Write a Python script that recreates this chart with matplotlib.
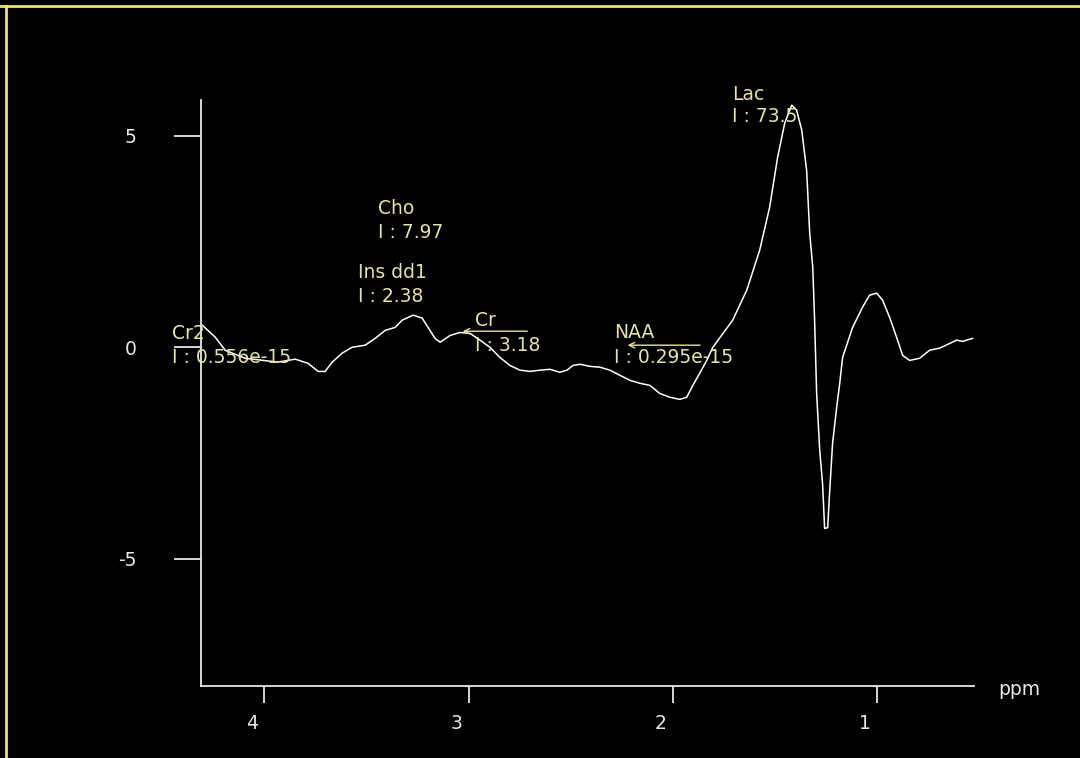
import matplotlib
matplotlib.use("Agg")
import matplotlib.pyplot as plt
import matplotlib.transforms as mtransforms
from matplotlib.lines import Line2D

plt.rcParams['font.family'] = ['DejaVu Sans']

# spectrum (ppm, intensity)
ppm = [4.303, 4.240, 4.191, 4.093, 3.932, 3.848, 3.785, 3.736, 3.702, 3.667,
       3.619, 3.570, 3.506, 3.457, 3.408, 3.359, 3.325, 3.271, 3.227, 3.198,
       3.164, 3.139, 3.090, 3.042, 2.993, 2.944, 2.895, 2.846, 2.797, 2.748,
       2.699, 2.650, 2.601, 2.553, 2.518, 2.489, 2.455, 2.406, 2.357, 2.308,
       2.259, 2.210, 2.161, 2.112, 2.064, 2.015, 1.966, 1.932, 1.902, 1.868,
       1.834, 1.804, 1.707, 1.638, 1.575, 1.526, 1.487, 1.452, 1.418, 1.394,
       1.369, 1.345, 1.330, 1.315, 1.306, 1.296, 1.281, 1.267, 1.257, 1.242,
       1.232, 1.218, 1.198, 1.183, 1.169, 1.149, 1.120, 1.071, 1.037, 1.002,
       0.973, 0.939, 0.905, 0.875, 0.841, 0.792, 0.743, 0.694, 0.645, 0.611,
       0.582, 0.533]
intensity = [0.52, 0.24, -0.07, -0.26, -0.35, -0.28, -0.38, -0.57, -0.57, -0.35,
             -0.14, 0.00, 0.05, 0.21, 0.40, 0.47, 0.64, 0.76, 0.69, 0.47,
             0.21, 0.12, 0.28, 0.35, 0.33, 0.17, 0.00, -0.24, -0.43, -0.54,
             -0.57, -0.54, -0.52, -0.59, -0.54, -0.43, -0.40, -0.45, -0.47, -0.54,
             -0.66, -0.78, -0.85, -0.90, -1.09, -1.18, -1.23, -1.18, -0.90, -0.61,
             -0.31, 0.00, 0.64, 1.35, 2.29, 3.31, 4.49, 5.30, 5.72, 5.60,
             5.13, 4.18, 2.70, 1.89, 0.64, -1.09, -2.43, -3.22, -4.28, -4.26,
             -3.38, -2.27, -1.42, -0.85, -0.24, 0.05, 0.47, 0.95, 1.23, 1.28,
             1.11, 0.71, 0.24, -0.19, -0.31, -0.26, -0.07, -0.02, 0.09, 0.17,
             0.14, 0.21]

# peak labels
peak_names = ['Cr2', 'Ins dd1', 'Cho', 'Cr', 'NAA', 'Lac']
peak_values = ['0.556e-15', '2.38', '7.97', '3.18', '0.295e-15', '73.5']
label_x = [4.45, 3.540, 3.443, 2.968, 2.289, 1.711]
name_y = [0.33, 1.77, 3.29, 0.64, 0.35, 5.96]
value_y = [-0.24, 1.21, 2.72, 0.05, -0.24, 5.44]

xticks = [4, 3, 2, 1]
yticks = [-5, 0, 5]

fg = '#e8e8e8'
lab = '#e6e2a6'
fs = 13.5

fig = plt.figure(figsize=(10.8, 7.58), dpi=100, facecolor='black')
ax = fig.add_axes([0.186, 0.095, 0.716, 0.773])
ax.set_facecolor('black')

ax.plot(ppm, intensity, color='white', lw=1.1)

ax.set_xlim(4.31, 0.525)
ax.set_ylim(-8.0, 5.84)

for s in ['top', 'right']:
    ax.spines[s].set_visible(False)
for s in ['left', 'bottom']:
    ax.spines[s].set_color(fg)
    ax.spines[s].set_linewidth(1.3)

ax.set_xticks(xticks)
ax.set_yticks(yticks)
ax.set_yticklabels([str(v) for v in yticks])
ax.tick_params(axis='x', colors=fg, length=12, width=1.3, pad=8, labelsize=fs)
ax.tick_params(axis='y', colors=fg, length=19.5, width=1.3, pad=27, labelsize=fs)

# x tick labels sit a bit left of their ticks
offset = mtransforms.ScaledTranslation(-0.12, 0, fig.dpi_scale_trans)
for t in ax.get_xticklabels():
    t.set_transform(t.get_transform() + offset)

fig.text(0.944, 0.090, 'ppm', color=fg, fontsize=fs, ha='center', va='center')

for name, val, x, y1, y2 in zip(peak_names, peak_values, label_x, name_y, value_y):
    ax.text(x, y1, name, color=lab, fontsize=fs, ha='left', va='center', clip_on=False)
    ax.text(x, y2, 'I : ' + val, color=lab, fontsize=fs, ha='left', va='center', clip_on=False)

# leader arrows for Cr and NAA
ax.annotate('', xy=(3.042, 0.38), xytext=(2.699, 0.38),
            arrowprops=dict(arrowstyle='->', color=lab, lw=1.0))
ax.annotate('', xy=(2.235, 0.05), xytext=(1.853, 0.05),
            arrowprops=dict(arrowstyle='->', color=lab, lw=1.0))

# yellow frame edges
fig.add_artist(Line2D([0, 1], [0.992, 0.992], transform=fig.transFigure, color='#efe07a', lw=2.0))
fig.add_artist(Line2D([0.006, 0.006], [0, 0.992], transform=fig.transFigure, color='#efe07a', lw=2.0))

fig.savefig('out.png', dpi=100, facecolor='black')
